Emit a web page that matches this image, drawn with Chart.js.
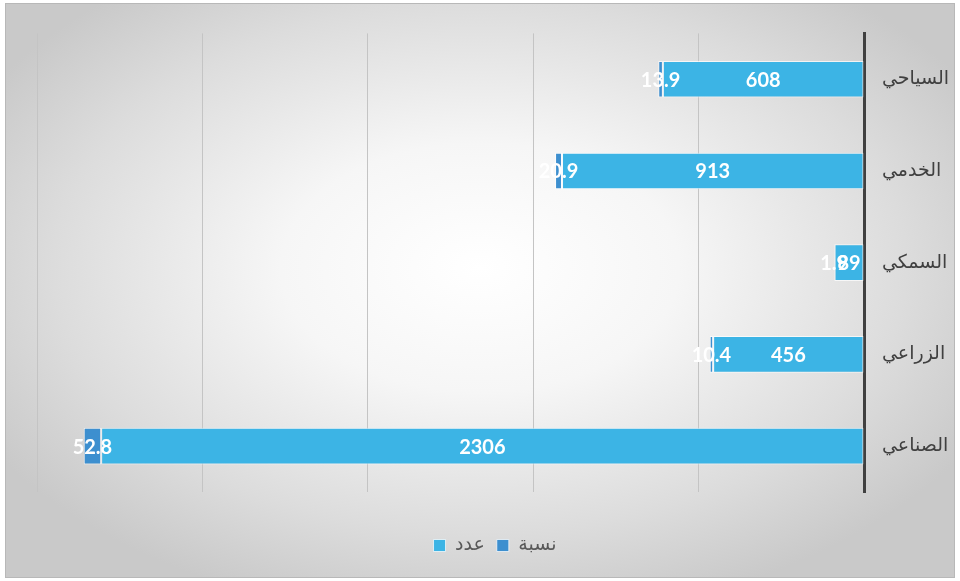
<!DOCTYPE html>
<html>
<head>
<meta charset="utf-8">
<script src="https://cdn.jsdelivr.net/npm/chart.js@4/dist/chart.umd.min.js"></script>
<style>
  html, body { margin: 0; padding: 0; background: #fff; }
  #frame {
    position: absolute; left: 5px; top: 3px; width: 950px; height: 575px;
    box-sizing: border-box; border: 1px solid #b8b8b8;
    background: radial-gradient(ellipse 60% 62% at 50% 46%, #ffffff 0%, #f6f6f6 35%, #dcdcdc 75%, #c9c9c9 100%);
  }
  #chart { position: absolute; left: 0; top: 0; }
</style>
</head>
<body>
<div id="frame"><canvas id="chart" width="950" height="575"></canvas></div>
<script>
// sectors, top to bottom
const SECTORS = ["السياحي", "الخدمي", "السمكي", "الزراعي", "الصناعي"];
const COUNTS = [608, 913, 89, 456, 2306];
const SHARES = [13.9, 20.9, 1.9, 10.4, 52.8];

const LIGHT_BLUE = "#3cb4e5";
const DARK_BLUE = "#3d8fcf";

// draws the white value labels in the middle of each segment
const barLabels = {
  id: "barLabels",
  afterDatasetsDraw(chart) {
    var ctx = chart.ctx;
    ctx.save();
    ctx.font = "bold 20px Lato, 'DejaVu Sans', sans-serif";
    ctx.fillStyle = "#ffffff";
    ctx.textAlign = "center";
    ctx.textBaseline = "middle";
    chart.data.datasets.forEach((ds, i) => {
      chart.getDatasetMeta(i).data.forEach((bar, j) => {
        var x = (bar.x + bar.base) / 2;
        ctx.fillText(String(ds.data[j]), x, bar.y + 1);
      });
    });
    ctx.restore();
  }
};

new Chart("chart", {
  type: "bar",
  data: {
    labels: SECTORS,
    datasets: [
      { label: "عدد", data: COUNTS, backgroundColor: LIGHT_BLUE, borderColor: "rgba(255,255,255,0.7)", borderWidth: 1, borderSkipped: false },
      { label: "نسبة", data: SHARES, backgroundColor: DARK_BLUE, borderColor: "rgba(255,255,255,0.7)", borderWidth: 1, borderSkipped: false }
    ]
  },
  options: {
    indexAxis: "y",
    responsive: false,
    animation: false,
    events: [],
    layout: { padding: { top: 28, left: 31, right: 3, bottom: 14 } },
    datasets: { bar: { categoryPercentage: 0.8, barPercentage: 0.5 } },
    scales: {
      x: {
        stacked: true,
        reverse: true,
        min: 0,
        max: 2500,
        ticks: { stepSize: 500, display: false },
        grid: { color: "#c4c4c4", lineWidth: 1, drawTicks: false },
        border: { display: false },
        afterFit(scale) { scale.height = 32; }
      },
      y: {
        stacked: true,
        position: "right",
        grid: { display: false, drawTicks: false },
        border: { color: "#404040", width: 3 },
        ticks: { color: "#404040", padding: 18, font: { family: "'DejaVu Sans', sans-serif", size: 19 } },
        afterFit(scale) { scale.width = 89; }
      }
    },
    plugins: {
      legend: {
        position: "bottom",
        labels: {
          color: "#595959",
          boxWidth: 12,
          boxHeight: 12,
          padding: 12,
          font: { family: "'DejaVu Sans', sans-serif", size: 19 }
        }
      },
      tooltip: { enabled: false }
    }
  },
  plugins: [barLabels]
});
</script>
</body>
</html>
